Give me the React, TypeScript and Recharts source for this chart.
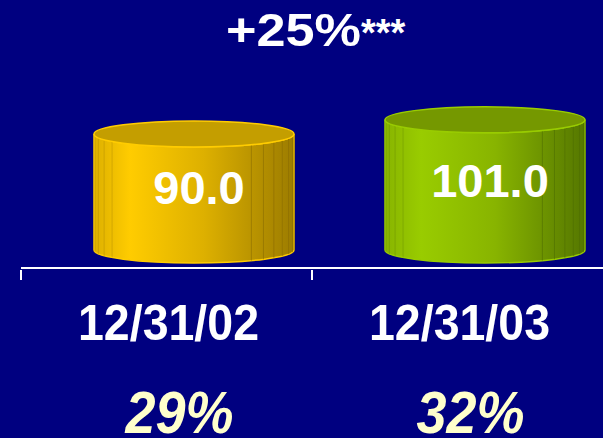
import React from "react"
import { BarChart, Bar, XAxis, YAxis } from "recharts"

const dates = ["12/31/02", "12/31/03"]
const values = [90.0, 101.0]
const shares = ["29%", "32%"]
const headline = "+25%"
const footnote = "***"

const data = dates.map((date, i) => ({ date, value: values[i], share: shares[i] }))

const W = 603
const H = 438
const FONT = '"Liberation Sans", Arial, sans-serif'
const BAND = (W - 21) / dates.length

// light / mid / dark / top / outline for each cylinder
const palettes = [
    { light: "#FFCC00", mid: "#DDB000", dark: "#9C7C00", top: "#C49E00", edge: "#FFCC00", line: "#8A6C00" },
    { light: "#99CC00", mid: "#88B400", dark: "#557700", top: "#759800", edge: "#99CC00", line: "#4E6E00" },
]

function Cylinder(props: any) {
    const { x, y, width, height, index, value } = props
    const p = palettes[index % palettes.length]
    const rx = width / 2
    const ry = 13
    const cx = x + rx + 27
    const top = y
    const bottom = y + height
    const left = cx - rx
    const right = cx + rx
    const body = `M${left},${top} L${left},${bottom} A${rx},${ry} 0 0 0 ${right},${bottom} L${right},${top} A${rx},${ry} 0 0 1 ${left},${top} Z`
    const facets = []
    for (let a = 8; a < 180; a += 9) {
        if (a > 35 && a < 125) continue
        const t = (a * Math.PI) / 180
        const fx = cx - rx * Math.cos(t)
        const dy = ry * Math.sin(t)
        facets.push(
            <line key={a} x1={fx} y1={top + dy} x2={fx} y2={bottom + dy} stroke={p.line} strokeOpacity={a > 90 ? 0.6 : 0.25} strokeWidth={1} />
        )
    }
    const gid = `cyl${index}`
    return (
        <g>
            <defs>
                <linearGradient id={gid} x1="0" y1="0" x2="1" y2="0">
                    <stop offset="0%" stopColor={p.mid} />
                    <stop offset="18%" stopColor={p.light} />
                    <stop offset="55%" stopColor={p.mid} />
                    <stop offset="100%" stopColor={p.dark} />
                </linearGradient>
            </defs>
            <path d={body} fill={`url(#${gid})`} stroke={p.edge} strokeWidth={1.5} />
            {facets}
            <ellipse cx={cx} cy={top} rx={rx} ry={ry} fill={p.top} stroke={p.edge} strokeWidth={1.5} />
            <text
                x={cx + 5}
                y={(top + bottom) / 2 + 12}
                textAnchor="middle"
                fill="#FFFFFF"
                fontFamily={FONT}
                fontWeight="bold"
                fontSize={47}
            >
                {value.toFixed(1)}
            </text>
        </g>
    )
}

function DateTick(props: any) {
    const { x, y, payload, index } = props
    const edge = x - BAND / 2
    return (
        <g>
            <line x1={edge} y1={y} x2={edge} y2={y + 10} stroke="#FFFFFF" strokeWidth={2} />
            <text
                x={x + 2}
                y={y + 70}
                textAnchor="middle"
                fill="#FFFFFF"
                fontFamily={FONT}
                fontWeight="bold"
                fontSize={50}
                textLength={181}
                lengthAdjust="spacingAndGlyphs"
            >
                {payload.value}
            </text>
            <text
                x={x + 13}
                y={y + 163}
                textAnchor="middle"
                fill="#FFFFCC"
                fontFamily={FONT}
                fontWeight="bold"
                fontStyle="italic"
                fontSize={60}
                textLength={108}
                lengthAdjust="spacingAndGlyphs"
            >
                {shares[index]}
            </text>
        </g>
    )
}

export default function App() {
    return (
        <div style={{ position: "absolute", left: 0, top: 0, width: W, height: H, background: "#000080", overflow: "hidden" }}>
            <svg width={W} height={60} style={{ position: "absolute", left: 0, top: 0 }}>
                <text x={226} y={46} fill="#FFFFFF" fontFamily={FONT} fontWeight="bold" fontSize={46} textLength={135} lengthAdjust="spacingAndGlyphs">
                    {headline}
                </text>
                <text x={361} y={46} fill="#FFFFFF" fontFamily={FONT} fontWeight="bold" fontSize={38}>
                    {footnote}
                </text>
            </svg>
            <BarChart width={W} height={H} data={data} margin={{ top: 76, right: 0, left: 21, bottom: 0 }}>
                <XAxis
                    dataKey="date"
                    height={170}
                    interval={0}
                    axisLine={{ stroke: "#FFFFFF", strokeWidth: 2 }}
                    tickLine={false}
                    tickSize={0}
                    tick={<DateTick />}
                />
                <YAxis hide type="number" domain={[-14, 135]} allowDataOverflow />
                <Bar dataKey="value" barSize={200} shape={<Cylinder />} isAnimationActive={false} />
            </BarChart>
        </div>
    )
}
